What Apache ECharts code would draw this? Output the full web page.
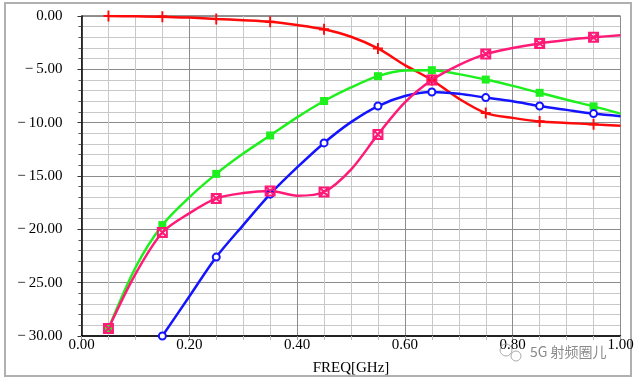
<!DOCTYPE html>
<html><head><meta charset="utf-8">
<script src="https://cdn.jsdelivr.net/npm/echarts@6/dist/echarts.min.js"></script>
<style>html,body{margin:0;padding:0;background:#fff}#c{width:640px;height:383px}</style>
</head><body><div id="c"></div>
<script>
// frequency points (GHz)
var freq = [0.05,0.10,0.15,0.20,0.25,0.30,0.35,0.40,0.45,0.50,0.55,0.60,0.65,0.70,0.75,0.80,0.85,0.90,0.95,1.00];
// series values (dB)
var redVals   = [0.0,-0.03,-0.06,-0.15,-0.28,-0.4,-0.55,-0.85,-1.25,-1.95,-3.04,-4.6,-6.0,-7.75,-9.1,-9.55,-9.88,-10.02,-10.16,-10.3];
var greenVals = [-29.3,-23.6,-19.6,-17.0,-14.8,-12.9,-11.2,-9.5,-7.97,-6.7,-5.64,-5.1,-5.08,-5.45,-5.96,-6.55,-7.2,-7.85,-8.47,-9.15];
var blueVals  = [null,null,-30.0,-26.3,-22.6,-19.6,-16.7,-14.2,-11.9,-9.95,-8.44,-7.5,-7.12,-7.3,-7.65,-8.0,-8.44,-8.8,-9.15,-9.4];
var pinkVals  = [-29.3,-24.2,-20.3,-18.5,-17.1,-16.6,-16.4,-16.85,-16.5,-14.4,-11.1,-8.1,-6.0,-4.6,-3.57,-3.0,-2.57,-2.25,-2.0,-1.8];
var xTicks = [0,0.2,0.4,0.6,0.8,1.0];
var yTicks = [0,-5,-10,-15,-20,-25,-30];

function build(vals){
  var out=[];
  for(var i=0;i<freq.length;i++){
    if(vals[i]===null) continue;
    var show = (i%2===0);
    out.push({value:[freq[i],vals[i]], symbolSize: show?undefined:0});
  }
  return out;
}
function fmtY(v){
  if(v===0) return '0.00';
  return '\u2212\u2009'+Math.abs(v).toFixed(2);
}
var chart = echarts.init(document.getElementById('c'));
var serif = 'Liberation Serif, Times New Roman, serif';
function mk(name,color,vals,symbol,size,itemStyle){
  return {
    name:name,type:'line',data:build(vals),smooth:0.3,
    symbol:symbol,symbolSize:size,showAllSymbol:true,
    lineStyle:{color:color,width:2.5},
    itemStyle:itemStyle,
    emphasis:{disabled:true},z:3
  };
}
chart.setOption({
  animation:false,
  grid:{left:81.5,right:19.5,top:16,bottom:47,show:true,borderColor:'#222',borderWidth:1,backgroundColor:'#fff'},
  xAxis:{type:'value',min:0,max:1,interval:0.2,
    axisLine:{show:true,onZero:false,lineStyle:{color:'#000',width:1.5}},
    axisTick:{show:true,inside:false,length:4,lineStyle:{color:'#999'}},
    minorTick:{show:true,splitNumber:4,length:4,lineStyle:{color:'#bbb'}},
    splitLine:{show:true,lineStyle:{color:'#8c8c8c',width:1}},
    minorSplitLine:{show:true,lineStyle:{color:'#c8c8c8',width:1}},
    axisLabel:{margin:2,color:'#000',fontFamily:serif,fontSize:15,formatter:function(v){return v.toFixed(2);}},
    name:'FREQ[GHz]',nameLocation:'middle',nameGap:25,
    nameTextStyle:{color:'#000',fontFamily:serif,fontSize:15}
  },
  yAxis:{type:'value',min:-30,max:0,interval:5,
    axisLine:{show:true,onZero:false,lineStyle:{color:'#000',width:1.5}},
    axisTick:{show:true,length:4,lineStyle:{color:'#333'}},
    minorTick:{show:true,splitNumber:5,length:3,lineStyle:{color:'#555'}},
    splitLine:{show:true,lineStyle:{color:'#8c8c8c',width:1}},
    minorSplitLine:{show:true,lineStyle:{color:'#c8c8c8',width:1}},
    axisLabel:{margin:19,color:'#000',fontFamily:serif,fontSize:15,formatter:fmtY}
  },
  series:[
    mk('red','#ff0a0a',redVals,'path://M5,0L5,10M0,5L10,5',[10,11],{color:'transparent',borderColor:'#ff0a0a',borderWidth:2}),
    mk('green','#1ef01e',greenVals,'rect',8,{color:'#1ef01e'}),
    mk('blue','#1414ff',blueVals,'circle',7,{color:'#fff',borderColor:'#1414ff',borderWidth:2}),
    mk('pink','#ff1a78',pinkVals,'path://M0,0L10,0L10,10L0,10ZM0,0L10,10M10,0L0,10',9,{color:'transparent',borderColor:'#ff1a78',borderWidth:2})
  ],
  graphic:[
    {type:'rect',shape:{x:5,y:3,width:626,height:373},style:{fill:'none',stroke:'#b0b0b0',lineWidth:2},z:-1},
    {type:'text',left:530,top:345,style:{text:'5G 射频圈儿',fill:'#8a8a8a',font:'14px "Noto Sans CJK SC", sans-serif'},z:10},
    {type:'circle',shape:{cx:506,cy:350,r:6},style:{fill:'none',stroke:'#aaa',lineWidth:1},z:10},
    {type:'circle',shape:{cx:516,cy:356,r:5},style:{fill:'none',stroke:'#aaa',lineWidth:1},z:10}
  ]
});
</script>
</body></html>
